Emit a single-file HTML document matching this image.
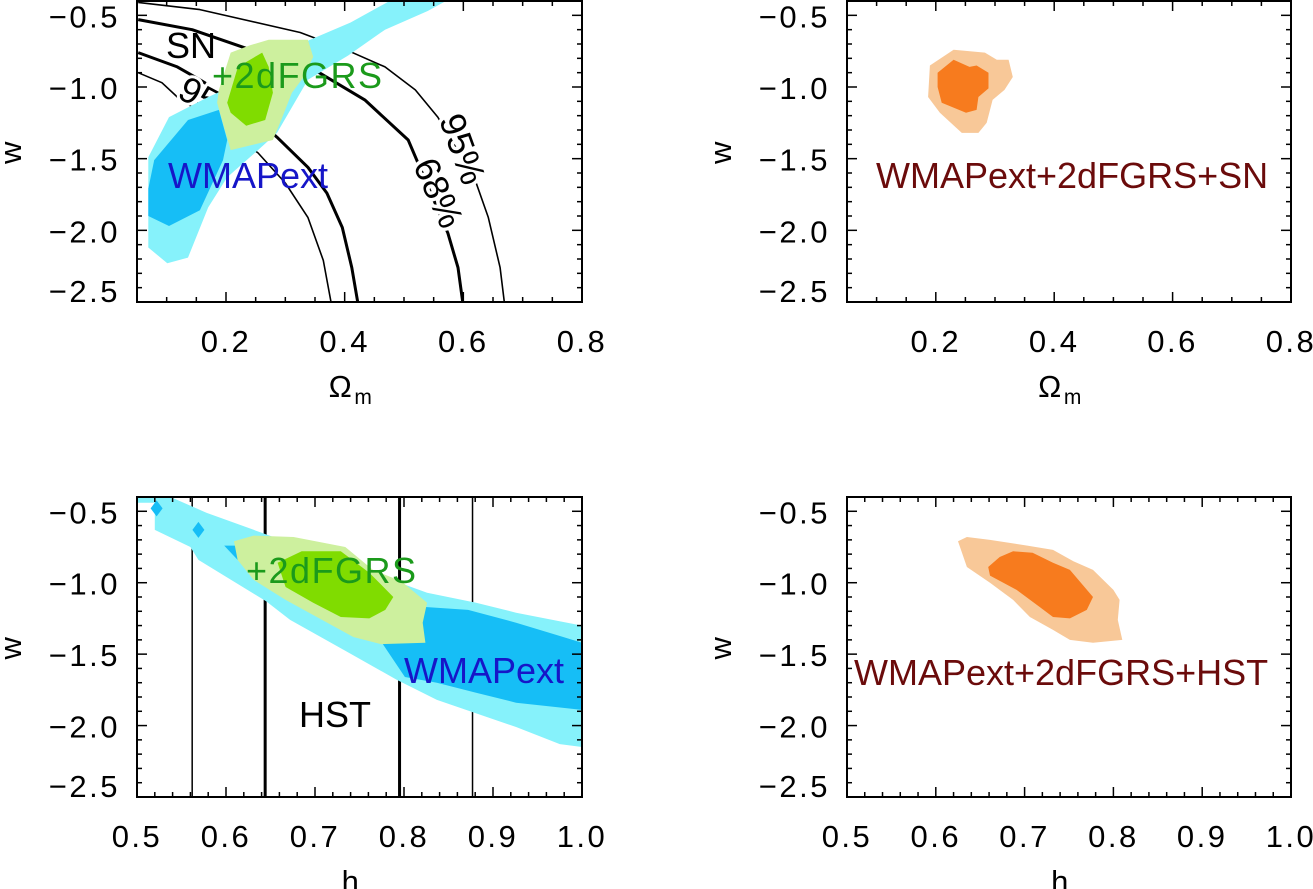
<!DOCTYPE html>
<html><head><meta charset="utf-8">
<style>
html,body{margin:0;padding:0;background:#fff;}
svg{display:block;font-family:"Liberation Sans","DejaVu Sans",sans-serif;}
.tl{font-size:31px;letter-spacing:2.5px;fill:#000;}
.lab{font-size:36px;}
</style></head>
<body>
<svg id="fig" width="1313" height="889" viewBox="0 0 1313 889" xmlns="http://www.w3.org/2000/svg"></svg>
<script>
// ---------- data (Omega_m / h, w) ----------
const omTicks=[0.2,0.4,0.6,0.8];
const hTicks=[0.5,0.6,0.7,0.8,0.9,1.0];
const wTicks=[-0.5,-1.0,-1.5,-2.0,-2.5];
// top-left: WMAPext
const tlCyanOm=[0.575,0.540,0.468,0.406,0.338,0.286,0.254,0.202,0.170,0.136,0.101,0.069,0.069,0.104,0.170,0.234,0.325,0.410,0.480];
const tlCyanW=[-0.39,-0.47,-0.60,-0.78,-0.95,-1.32,-1.44,-1.63,-1.84,-2.19,-2.23,-2.12,-1.49,-1.21,-1.07,-0.95,-0.70,-0.55,-0.39];
const tlBlueOm=[0.069,0.079,0.136,0.188,0.202,0.195,0.156,0.104,0.069];
const tlBlueW=[-1.71,-1.51,-1.23,-1.16,-1.37,-1.51,-1.86,-1.97,-1.90];
const tlLgOm=[0.188,0.208,0.240,0.272,0.338,0.347,0.331,0.311,0.293,0.279,0.208,0.198,0.185];
const tlLgW=[-1.02,-0.76,-0.71,-0.67,-0.67,-0.79,-0.93,-1.04,-1.23,-1.37,-1.44,-1.30,-1.11];
const tlDgOm=[0.202,0.220,0.261,0.272,0.279,0.266,0.234,0.208];
const tlDgW=[-1.11,-0.86,-0.76,-0.86,-1.04,-1.23,-1.27,-1.18];
// SN contours
const sn1Om=[0.052,0.092,0.118,0.190,0.254,0.300,0.338,0.364,0.377];
const sn1W=[-0.90,-0.97,-1.07,-1.27,-1.46,-1.67,-1.91,-2.21,-2.50];
const sn2Om=[0.052,0.118,0.156,0.224,0.286,0.338,0.370,0.396,0.412,0.422];
const sn2W=[-0.76,-0.86,-0.95,-1.12,-1.35,-1.56,-1.74,-1.98,-2.26,-2.50];
const sn3Om=[0.052,0.143,0.234,0.357,0.434,0.507,0.574,0.591,0.599];
const sn3W=[-0.53,-0.60,-0.73,-0.90,-1.09,-1.37,-2.02,-2.26,-2.50];
const sn4Om=[0.052,0.156,0.325,0.402,0.468,0.519,0.557,0.620,0.642,0.662,0.669];
const sn4W=[-0.41,-0.46,-0.62,-0.74,-0.86,-1.02,-1.21,-1.65,-1.91,-2.26,-2.50];
// top-right: combined SN
const trLightOm=[0.190,0.230,0.283,0.303,0.323,0.330,0.316,0.296,0.286,0.272,0.244,0.207,0.187];
const trLightW=[-0.85,-0.74,-0.76,-0.81,-0.81,-0.93,-1.02,-1.09,-1.25,-1.32,-1.32,-1.18,-1.07];
const trDarkOm=[0.203,0.230,0.257,0.269,0.289,0.289,0.272,0.269,0.251,0.210,0.203];
const trDarkW=[-0.90,-0.81,-0.86,-0.85,-0.90,-1.01,-1.07,-1.16,-1.18,-1.11,-1.00];
// bottom-left
const hstH=[0.562,0.644,0.795,0.877];
const blCyanH=[0.501,0.534,0.578,0.640,0.826,0.881,0.926,1.0,1.0,0.975,0.926,0.837,0.792,0.738,0.672,0.645,0.569,0.560,0.520,0.520,0.501];
const blCyanW=[-0.39,-0.39,-0.51,-0.65,-1.07,-1.14,-1.21,-1.30,-2.15,-2.13,-2.01,-1.82,-1.68,-1.49,-1.26,-1.13,-0.84,-0.75,-0.63,-0.44,-0.44];
const blBlueH=[1.0,0.926,0.872,0.824,0.773,0.801,0.837,0.881,0.926,1.0];
const blBlueW=[-1.42,-1.28,-1.19,-1.17,-1.40,-1.66,-1.70,-1.77,-1.84,-1.89];
const blBlue2H=[0.598,0.620,0.631,0.613];
const blBlue2W=[-0.74,-0.74,-0.89,-0.84];
const blDotH=[0.522,0.569];
const blDotW=[-0.48,-0.63];
const blLgH=[0.609,0.631,0.676,0.734,0.765,0.797,0.826,0.821,0.824,0.774,0.743,0.702,0.667,0.631,0.613];
const blLgW=[-0.71,-0.67,-0.68,-0.75,-0.91,-0.99,-1.14,-1.28,-1.42,-1.43,-1.38,-1.24,-1.12,-0.98,-0.84];
const blDgH=[0.658,0.685,0.729,0.761,0.788,0.779,0.761,0.729,0.698,0.667];
const blDgW=[-0.86,-0.78,-0.78,-0.93,-1.10,-1.19,-1.25,-1.24,-1.14,-1.03];
// bottom-right
const brLightH=[0.625,0.635,0.661,0.703,0.732,0.755,0.777,0.800,0.807,0.805,0.810,0.777,0.751,0.732,0.706,0.687,0.661,0.635];
const brLightW=[-0.71,-0.68,-0.70,-0.74,-0.77,-0.85,-0.91,-1.05,-1.12,-1.26,-1.40,-1.42,-1.40,-1.33,-1.24,-1.12,-1.00,-0.89];
const brDarkH=[0.659,0.672,0.687,0.709,0.732,0.751,0.777,0.770,0.751,0.732,0.717,0.691,0.661];
const brDarkW=[-0.89,-0.82,-0.78,-0.79,-0.86,-0.91,-1.10,-1.19,-1.25,-1.24,-1.17,-1.05,-0.95];

const C={cyan:'#86f2fb',blue:'#16bef6',lg:'#cdf09e',dg:'#80dc00',lo:'#f8c898',do:'#f77b1e'};
const NS='http://www.w3.org/2000/svg';
const fig=document.getElementById('fig');
function mk(tag,attrs,parent){const e=document.createElementNS(NS,tag);for(const k in attrs)e.setAttribute(k,attrs[k]);(parent||fig).appendChild(e);return e;}

function makePanel(name,x0,x1,y0,y1,xmin,xmax,ymin,ymax){
  const g=mk('g',{});
  
  
  const clipId=name+'-clip';
  const cp=mk('clipPath',{id:clipId},g);
  mk('rect',{x:x0,y:y0,width:x1-x0,height:y1-y0},cp);
  const plot=mk('g',{'clip-path':'url(#'+clipId+')'},g);
  
  
  return {g,plot,x0,x1,y0,y1,
    sx:v=>x0+(v-xmin)/(xmax-xmin)*(x1-x0),
    sy:v=>y0+(ymax-v)/(ymax-ymin)*(y1-y0)};
}
function poly(P,xs,ys,fill,name){
  const pts=xs.map((v,i)=>P.sx(v).toFixed(1)+','+P.sy(ys[i]).toFixed(1)).join(' ');
  const e=mk('polygon',{points:pts,fill:fill},P.plot);
  
  
}
function line(P,xs,ys,w,name){
  let d='';xs.forEach((v,i)=>{d+=(i?'L':'M')+P.sx(v).toFixed(1)+','+P.sy(ys[i]).toFixed(1);});
  const e=mk('path',{d:d,fill:'none',stroke:'#000','stroke-width':w,'stroke-linejoin':'round'},P.plot);
  
  
}
function text(parent,x,y,str,cls,extra,name){
  const e=mk('text',Object.assign({x:x,y:y,class:cls},extra||{}),parent);
  e.textContent=str;
  
  
  return e;
}
function axes(P,xTicks,xMinorStep,xmin,xmax,xFmt,xTitle,xTitleSub){
  const g=P.g;
  const n=Math.round((xmax-xmin)/xMinorStep);
  for(let i=0;i<=n;i++){
    const v=xmin+i*xMinorStep;
    const major=xTicks.some(t=>Math.abs(t-v)<1e-6);
    const L=major?10:5;const X=P.sx(v);
    mk('line',{x1:X,x2:X,y1:P.y1,y2:P.y1-L,stroke:'#000','stroke-width':1.5},g);
    mk('line',{x1:X,x2:X,y1:P.y0,y2:P.y0+L,stroke:'#000','stroke-width':1.5},g);
  }
  for(let v=-2.5;v<=-0.39;v+=0.1){
    const major=wTicks.some(t=>Math.abs(t-v)<1e-6);
    const L=major?10:5;const Y=P.sy(v);
    mk('line',{x1:P.x0,x2:P.x0+L,y1:Y,y2:Y,stroke:'#000','stroke-width':1.5},g);
    mk('line',{x1:P.x1,x2:P.x1-L,y1:Y,y2:Y,stroke:'#000','stroke-width':1.5},g);
  }
  const box=mk('rect',{x:P.x0,y:P.y0,width:P.x1-P.x0,height:P.y1-P.y0,fill:'none',stroke:'#000','stroke-width':2},g);
  
  
  xTicks.forEach(t=>{
    text(g,P.sx(t),P.y1+50,xFmt(t),'tl',{'text-anchor':'middle'},'x-tick-label');
  });
  wTicks.forEach(t=>{
    let y=P.sy(t)+12; if(t===-2.5) y=P.y1;
    text(g,P.x0-17,y,'\u2212'+Math.abs(t).toFixed(1),'tl',{'text-anchor':'end'},'y-tick-label');
  });
  const cx=(P.x0+P.x1)/2;
  const xt=text(g,cx-8,P.y1+95,xTitle,'tl',{'text-anchor':'middle','font-size':'31px','letter-spacing':'0'},'x-axis-title');
  if(xTitleSub){const ts=mk('tspan',{'font-size':'21px',dy:7},xt);ts.textContent=xTitleSub;}
  text(g,P.x0-116,(P.y0+P.y1)/2,'w','tl',{transform:'rotate(-90 '+(P.x0-116)+' '+((P.y0+P.y1)/2)+')','text-anchor':'middle','letter-spacing':'0'},'y-axis-title');
}

// ---------- top-left ----------
const P1=makePanel('panel-omega-w-sn',137,582,1,302,0.05,0.8,-2.5,-0.4);
line(P1,sn1Om,sn1W,1.6,'sn-contour-95-inner');
line(P1,sn2Om,sn2W,3,'sn-contour-68-inner');
line(P1,sn3Om,sn3W,3,'sn-contour-68-outer');
line(P1,sn4Om,sn4W,1.6,'sn-contour-95-outer');
text(P1.plot,460,150,'95%','lab',{'text-anchor':'middle','dominant-baseline':'middle','font-size':'32px',transform:'rotate(70 460 150)',stroke:'#fff','stroke-width':7,'paint-order':'stroke',fill:'#000'},'contour-label-95');
text(P1.plot,436,194,'68%','lab',{'text-anchor':'middle','dominant-baseline':'middle','font-size':'32px',transform:'rotate(66 436 194)',stroke:'#fff','stroke-width':7,'paint-order':'stroke',fill:'#000'},'contour-label-68');
text(P1.plot,198,98,'95','lab',{'text-anchor':'middle','dominant-baseline':'middle','font-size':'32px',transform:'rotate(28 198 98)',stroke:'#fff','stroke-width':6,'paint-order':'stroke',fill:'#000'},'contour-label-95-inner');
text(P1.plot,166,58,'SN','lab',{fill:'#000'},'sn-label');
poly(P1,tlCyanOm,tlCyanW,C.cyan,'wmap-95-region');
poly(P1,tlBlueOm,tlBlueW,C.blue,'wmap-68-region');
poly(P1,tlLgOm,tlLgW,C.lg,'2dfgrs-95-region');
poly(P1,tlDgOm,tlDgW,C.dg,'2dfgrs-68-region');
text(P1.plot,212,88,'+2dFGRS','lab',{fill:'#1b9a1b','letter-spacing':'1.5px'},'2dfgrs-label');
text(P1.plot,168,188,'WMAPext','lab',{fill:'#1616c8'},'wmapext-label');
axes(P1,omTicks,0.05,0.05,0.8,t=>t.toFixed(1),'\u03A9','m');

// ---------- top-right ----------
const P2=makePanel('panel-omega-w-combined',847,1291,1,302,0.05,0.8,-2.5,-0.4);
poly(P2,trLightOm,trLightW,C.lo,'combined-95-region');
poly(P2,trDarkOm,trDarkW,C.do,'combined-68-region');
text(P2.plot,876,188,'WMAPext+2dFGRS+SN','lab',{fill:'#6b0b0b','font-size':'36px'},'combined-sn-label');
axes(P2,omTicks,0.05,0.05,0.8,t=>t.toFixed(1),'\u03A9','m');

// ---------- bottom-left ----------
const P3=makePanel('panel-h-w-hst',137,582,497,797,0.5,1.0,-2.5,-0.4);
const hstW=[1.5,3,3,1.5];
hstH.forEach((h,i)=>{
  const e=mk('line',{x1:P3.sx(h),x2:P3.sx(h),y1:P3.y0,y2:P3.y1,stroke:'#000','stroke-width':hstW[i]},P3.plot);
  
  
});
poly(P3,blCyanH,blCyanW,C.cyan,'wmap-95-region');
poly(P3,blBlueH,blBlueW,C.blue,'wmap-68-region');
poly(P3,blBlue2H,blBlue2W,C.blue,'wmap-68-fragment');
blDotH.forEach((h,i)=>{
  const X=P3.sx(h),Y=P3.sy(blDotW[i]);
  const e=mk('polygon',{points:`${X},${Y-8} ${X+6},${Y} ${X},${Y+8} ${X-6},${Y}`,fill:C.blue},P3.plot);
  
  
});
poly(P3,blLgH,blLgW,C.lg,'2dfgrs-95-region');
poly(P3,blDgH,blDgW,C.dg,'2dfgrs-68-region');
text(P3.plot,246,583,'+2dFGRS','lab',{fill:'#1b9a1b','letter-spacing':'1.5px'},'2dfgrs-label');
text(P3.plot,404,683,'WMAPext','lab',{fill:'#1616c8'},'wmapext-label');
text(P3.plot,299,727,'HST','lab',{fill:'#000'},'hst-label');
axes(P3,hTicks,0.02,0.5,1.0,t=>t.toFixed(1),'h',null);

// ---------- bottom-right ----------
const P4=makePanel('panel-h-w-combined',847,1291,497,797,0.5,1.0,-2.5,-0.4);
poly(P4,brLightH,brLightW,C.lo,'combined-95-region');
poly(P4,brDarkH,brDarkW,C.do,'combined-68-region');
text(P4.plot,854,685,'WMAPext+2dFGRS+HST','lab',{fill:'#6b0b0b','font-size':'35px'},'combined-hst-label');
axes(P4,hTicks,0.02,0.5,1.0,t=>t.toFixed(1),'h',null);
</script>
</body></html>
